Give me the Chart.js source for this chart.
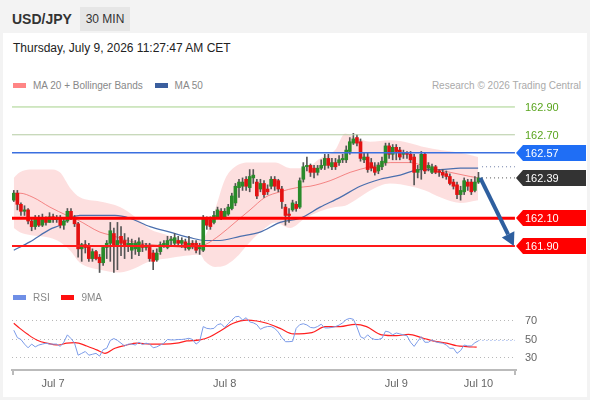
<!DOCTYPE html>
<html>
<head>
<meta charset="utf-8">
<script src="https://cdn.jsdelivr.net/npm/chart.js@4.4.1/dist/chart.umd.min.js"></script>
<style>
  body { margin:0; width:590px; height:400px; background:#f3f3f3; font-family:"Liberation Sans", Arial, sans-serif; overflow:hidden; position:relative; }
  .panel { position:absolute; left:3px; top:33px; width:584px; height:364px; background:#fff; }
  .abs { position:absolute; white-space:nowrap; }
  #pair { left:12px; top:11px; font-size:14px; font-weight:bold; color:#333; line-height:16px; }
  #tf { left:80px; top:7px; width:50px; height:24px; line-height:24px; text-align:center; background:#e6e6e6; font-size:12px; color:#333; }
  #date { left:13px; top:41px; font-size:12px; line-height:14px; color:#222; }
  .legend { font-size:10px; color:#888; line-height:12px; }
  .sw { display:inline-block; width:13px; height:5px; vertical-align:middle; margin-right:7px; position:relative; top:-1px; }
  .gap { display:inline-block; width:9px; }
  #mainBox { position:absolute; left:0; top:95px; width:590px; height:190px; }
  #rsiBox { position:absolute; left:0; top:284px; width:590px; height:113px; }
</style>
</head>
<body>
<div class="panel"></div>
<div class="abs" id="pair">USD/JPY</div>
<div class="abs" id="tf">30 MIN</div>
<div class="abs" id="date">Thursday, July 9, 2026 11:27:47 AM CET</div>
<div class="abs legend" style="left:13px; top:80px;">
  <span class="sw" style="background:#ff8585"></span>MA 20 + Bollinger Bands<span class="gap"></span>
  <span class="sw" style="background:#3b5f9e"></span>MA 50
</div>
<div class="abs legend" style="right:9px; top:80px; color:#aaa;">Research © 2026 Trading Central</div>
<div id="mainBox"><canvas id="mainChart"></canvas></div>
<div id="rsiBox"><canvas id="rsiChart"></canvas></div>
<div class="abs legend" style="left:13px; top:292px;">
  <span class="sw" style="background:#6f8fe6"></span>RSI<span class="gap"></span>
  <span class="sw" style="background:#ff1010"></span>9MA
</div>
<script>
// 30 min candles, Jul 6 evening to Jul 9 morning
const opens = [
  162.23,162.28,162.20,162.15,162.16,162.08,162.04,162.10,162.05,162.10,
  162.07,162.11,162.09,162.10,162.05,162.08,162.15,162.10,162.06,161.88,
  161.91,161.90,161.81,161.86,161.82,161.78,161.89,161.92,161.99,161.91,
  161.97,161.94,161.90,161.87,161.88,161.86,161.91,161.89,161.89,161.85,
  161.80,161.86,161.91,161.89,161.94,161.92,161.94,161.92,161.93,161.88,
  161.92,161.92,161.88,161.87,162.10,162.09,162.07,162.11,162.15,162.11,
  162.13,162.17,162.21,162.32,162.33,162.38,162.32,162.39,162.36,162.31,
  162.35,162.31,162.33,162.38,162.37,162.31,162.18,162.13,162.16,162.20,
  162.18,162.38,162.47,162.48,162.46,162.43,162.46,162.48,162.53,162.47,
  162.50,162.50,162.52,162.52,162.58,162.64,162.68,162.65,162.52,162.54,
  162.50,162.47,162.44,162.47,162.50,162.62,162.56,162.61,162.59,162.56,
  162.57,162.56,162.54,162.43,162.45,162.56,162.46,162.43,162.47,162.44,
  162.43,162.42,162.40,162.36,162.34,162.27,162.29,162.36,162.36,162.30,
  162.36];
const closes = [
  162.28,162.20,162.15,162.16,162.08,162.04,162.10,162.05,162.10,162.07,
  162.11,162.09,162.10,162.05,162.08,162.15,162.10,162.06,161.88,161.91,
  161.89,161.81,161.86,161.81,161.78,161.89,161.92,162.01,161.91,161.94,
  161.92,161.90,161.92,161.92,161.92,161.93,161.89,161.90,161.81,161.79,
  161.85,161.91,161.92,161.94,161.95,161.96,161.92,161.94,161.89,161.92,
  161.90,161.87,161.89,162.10,162.05,162.04,162.12,162.16,162.10,162.15,
  162.18,162.26,162.33,162.36,162.36,162.33,162.40,162.41,162.26,162.35,
  162.27,162.29,162.38,162.33,162.31,162.22,162.12,162.12,162.21,162.17,
  162.37,162.47,162.48,162.43,162.43,162.46,162.48,162.53,162.48,162.50,
  162.47,162.52,162.53,162.59,162.65,162.67,162.64,162.53,162.54,162.45,
  162.46,162.43,162.48,162.51,162.62,162.56,162.61,162.58,162.54,162.57,
  162.56,162.52,162.43,162.45,162.56,162.44,162.48,162.47,162.43,162.43,
  162.41,162.40,162.35,162.33,162.27,162.30,162.37,162.33,162.29,162.36,
  162.39];
const highs = [
  162.30,162.30,162.21,162.19,162.17,162.10,162.12,162.12,162.13,162.11,
  162.14,162.13,162.12,162.12,162.10,162.17,162.17,162.12,162.07,161.92,
  161.94,161.92,161.88,161.87,161.84,161.90,161.94,162.07,162.03,162.07,
  162.04,161.99,161.96,161.95,161.94,161.96,161.94,161.92,161.92,161.87,
  161.88,161.93,161.94,161.97,161.97,161.99,161.97,161.96,161.95,161.97,
  161.94,161.94,161.92,162.12,162.11,162.11,162.15,162.18,162.17,162.17,
  162.20,162.28,162.35,162.38,162.39,162.40,162.45,162.45,162.38,162.38,
  162.37,162.34,162.40,162.40,162.38,162.33,162.20,162.17,162.23,162.22,
  162.39,162.50,162.54,162.49,162.48,162.48,162.52,162.56,162.56,162.53,
  162.53,162.55,162.56,162.62,162.68,162.71,162.70,162.67,162.57,162.57,
  162.53,162.50,162.50,162.54,162.64,162.64,162.63,162.63,162.61,162.59,
  162.58,162.58,162.56,162.48,162.58,162.57,162.50,162.49,162.48,162.45,
  162.45,162.44,162.42,162.38,162.36,162.33,162.39,162.38,162.38,162.40,
  162.43];
const lows = [
  162.22,162.16,162.12,162.12,162.06,162.01,162.02,162.04,162.04,162.05,
  162.07,162.07,162.07,162.03,162.02,162.07,162.09,162.04,161.82,161.79,
  161.85,161.79,161.79,161.80,161.71,161.76,161.81,161.79,161.71,161.73,
  161.83,161.81,161.86,161.81,161.84,161.83,161.86,161.87,161.79,161.73,
  161.79,161.84,161.89,161.88,161.91,161.90,161.90,161.89,161.87,161.87,
  161.88,161.85,161.84,161.86,162.02,162.02,162.06,162.10,162.09,162.10,
  162.12,162.16,162.19,162.25,162.30,162.30,162.29,162.35,162.24,162.29,
  162.25,162.27,162.31,162.30,162.29,162.17,162.05,162.07,162.15,162.15,
  162.17,162.36,162.44,162.40,162.39,162.41,162.45,162.45,162.46,162.45,
  162.45,162.48,162.50,162.50,162.56,162.63,162.62,162.51,162.50,162.43,
  162.44,162.41,162.42,162.45,162.48,162.53,162.52,162.52,162.52,162.53,
  162.53,162.50,162.34,162.39,162.38,162.42,162.44,162.42,162.42,162.40,
  162.39,162.38,162.34,162.31,162.24,162.23,162.27,162.30,162.27,162.29,
  162.35];

// indicator lines: [bar position, value]
const ma20 = [[0,162.28],[1.7,162.28],[5.4,162.25],[10.1,162.18],[14.9,162.12],[17.7,162.09],
  [24.1,162.00],[26.9,161.98],[33.4,161.93],[42.9,161.90],[49.3,161.89],[53.5,161.91],
  [57.7,161.98],[61.9,162.07],[66.1,162.16],[70.3,162.25],[74.5,162.29],[79.2,162.32],
  [82.9,162.33],[88.5,162.37],[91.3,162.40],[94.1,162.43],[99.7,162.47],[105.3,162.50],
  [110.9,162.50],[116.5,162.46],[122.1,162.43],[127.7,162.40],[129.9,162.39]];
const ma50 = [[0,161.87],[4.5,161.93],[10.1,162.02],[12.9,162.05],[15.7,162.10],[18.5,162.12],
  [24.1,162.12],[28.3,162.12],[32.5,162.10],[38.1,162.04],[43.7,162.00],[49.3,161.96],
  [53.5,161.94],[57.7,161.94],[63.3,161.97],[68.9,162.00],[74.5,162.07],[80.1,162.10],
  [85.7,162.18],[91.3,162.25],[96.9,162.33],[102.5,162.38],[108.1,162.41],[113.7,162.45],
  [119.3,162.45],[124.9,162.46],[129.9,162.46]];
const bbX = [0,1.7,4.5,10.1,12.9,15.7,18.5,24.1,29.7,33.9,38.1,42.9,47.9,52.1,53.5,56.3,59.1,
  61.9,66.1,70.3,73.1,77.3,81.5,85.7,89.9,92.7,95.5,99.7,105.3,110.9,115.1,119.3,124.9,129.9];
const bbUpper = [162.39,162.43,162.45,162.45,162.43,162.32,162.25,162.22,162.18,162.11,
  162.02,161.98,161.94,161.94,161.97,162.16,162.38,162.47,162.50,162.50,162.50,162.46,
  162.46,162.53,162.59,162.71,162.68,162.65,162.66,162.64,162.61,162.59,162.57,162.54];
const bbLower = [162.03,162.00,161.98,161.96,161.93,161.87,161.78,161.73,161.71,161.74,
  161.79,161.81,161.83,161.84,161.79,161.75,161.76,161.81,161.93,162.03,162.07,162.03,
  162.10,162.15,162.18,162.19,162.23,162.30,162.35,162.33,162.30,162.25,162.21,162.23];
const ma50Next = 162.47;

// key levels and the projected move
const levelValues = [162.90, 162.70, 162.57, 162.39, 162.10, 161.90];
const arrowFrom = [130.5, 162.39];
const arrowTo = [139.9, 161.90];

// RSI panel
const rsi = [
  60,52,50,45,41,45,42,44,45,46,
  45,45,45,42.6,47,55,51,46,33,35,
  37,33,34,35,32,39,40.5,49,51,49,
  46,43,45,45,44,47,44.5,46,45,41,
  42,44,46,50,49.5,49.5,50,50,50.5,51.3,
  50,45,48,63.9,62,61.5,62,66,67,63,
  67,71,74.5,75,71,73.5,69,68,66,61,
  63,64,64,62,58,52,47.6,47.6,48,62,
  66,67,65.7,63,62.5,64,66.5,62.5,62.5,63,
  64,65.5,68,71.5,72.8,71.8,63.5,53,51,55,
  51.5,50,50,51.3,59,58,55,57,56,55,
  54,47,42.5,48,53,47,47,49.5,47.5,46.5,
  46,44,40.5,40.5,35,38,44,43,43,46.5,
  48.5];
const rsiNext = 49;
const rsiMa9 = [[0,67.5],[1.7,62],[4.1,55],[6.4,49.5],[9.2,46],[12.5,44],[14.8,46],[17.1,46.6],
  [20.4,43],[23.2,38.7],[25.5,35],[28.3,40.5],[31.6,44],[34.4,46],[38.1,45],[41.8,45],
  [45.6,46],[48.4,48.4],[52.1,49.5],[54.9,53],[58.2,60.3],[61.4,67.5],[65.2,71],[68,70],
  [70.8,67.5],[74.5,62],[78.2,56],[83.4,57.4],[87.1,63.9],[91.3,63.9],[95.5,66.4],
  [98.7,63.9],[102.9,55],[107.1,54.1],[110.4,55.6],[114.6,51.3],[118.3,47.6],[121.1,46],
  [123.9,43.2],[126.7,42.3],[129.5,41.7]];
const rsiLevels = [30, 50, 70];

// x axis
const xTickPos = [11, 59, 107, 130];
const xTickLabels = ['Jul 7', 'Jul 8', 'Jul 9', 'Jul 10'];
const X_MIN = -0.5, X_MAX = 140.5, X_END = 140.2;

const FONT = '"Liberation Sans", Arial, sans-serif';
Chart.defaults.font.family = FONT;

const idx = closes.map((_, i) => i);
const last = closes.length - 1;
const pts = arr => arr.map(([x, y]) => ({x, y}));
const flat = (x0, x1, y) => [{x: x0, y}, {x: x1, y}];

const GREEN = '#2a8a2a', RED = '#e31212';
const bodyColors = closes.map((c, i) => c >= opens[i] ? GREEN : RED);

const levelStyle = [
  {line: '#a6d28a', width: 1, text: '#5aa51e'},
  {line: '#b4cca3', width: 1, text: '#5aa51e'},
  {line: '#3a6fe0', width: 1.5, box: '#1f6ef5', text: '#fff'},
  {line: null, box: '#333333', text: '#fff'},
  {line: '#ff0000', width: 3, box: '#ff0000', text: '#fff'},
  {line: '#ff1a1a', width: 2, box: '#ff0000', text: '#fff'}
];

const lineBase = {type: 'line', pointRadius: 0, fill: false, tension: 0};

const levelSets = [];
levelValues.forEach((v, i) => {
  const st = levelStyle[i];
  if (!st.line) return;
  levelSets.push({...lineBase, data: flat(X_MIN, X_END, v), borderColor: st.line, borderWidth: st.width, order: 0});
});

// price tags at the right edge
const priceTags = {
  id: 'priceTags',
  afterDraw(chart) {
    const {ctx, chartArea, scales: {y}} = chart;
    const x0 = chartArea.right;
    ctx.save();
    ctx.font = '11px ' + FONT;
    ctx.textBaseline = 'middle';
    levelValues.forEach((v, i) => {
      const st = levelStyle[i];
      const py = Math.round(y.getPixelForValue(v));
      if (st.box) {
        ctx.fillStyle = st.box;
        ctx.beginPath();
        ctx.moveTo(x0, py);
        ctx.lineTo(x0 + 7, py - 8);
        ctx.lineTo(586, py - 8);
        ctx.lineTo(586, py + 8);
        ctx.lineTo(x0 + 7, py + 8);
        ctx.closePath();
        ctx.fill();
      }
      ctx.fillStyle = st.text;
      ctx.fillText(v.toFixed(2), x0 + 9, py + 1);
    });
    ctx.restore();
  }
};

const moveArrow = {
  id: 'moveArrow',
  afterDatasetsDraw(chart) {
    const {ctx, scales: {x, y}} = chart;
    const ax0 = x.getPixelForValue(arrowFrom[0]), ay0 = y.getPixelForValue(arrowFrom[1]);
    const ax1 = x.getPixelForValue(arrowTo[0]), ay1 = y.getPixelForValue(arrowTo[1]);
    const ang = Math.atan2(ay1 - ay0, ax1 - ax0);
    const headLen = 13, headW = 7;
    const bx = ax1 - headLen * Math.cos(ang), by = ay1 - headLen * Math.sin(ang);
    ctx.save();
    ctx.strokeStyle = ctx.fillStyle = '#2e5f9f';
    ctx.lineWidth = 4;
    ctx.beginPath();
    ctx.moveTo(ax0, ay0);
    ctx.lineTo(bx, by);
    ctx.stroke();
    ctx.beginPath();
    ctx.moveTo(ax1, ay1);
    ctx.lineTo(bx + headW * Math.sin(ang), by - headW * Math.cos(ang));
    ctx.lineTo(bx - headW * Math.sin(ang), by + headW * Math.cos(ang));
    ctx.closePath();
    ctx.fill();
    ctx.restore();
  }
};

new Chart(document.getElementById('mainChart'), {
  type: 'bar',
  data: {
    labels: idx,
    datasets: [
      ...levelSets,
      {...lineBase, data: flat(last + 1, X_END, closes[last]), borderColor: '#555', borderWidth: 1, borderDash: [1, 3], order: 0},
      {...lineBase, data: flat(last + 1, X_END, ma50Next), borderColor: '#6f7fa8', borderWidth: 1, borderDash: [1, 3], order: 0},
      {type: 'bar', data: closes.map((c, i) => [opens[i], c]), backgroundColor: bodyColors, barThickness: 3, grouped: false, order: 1},
      {type: 'bar', data: lows.map((l, i) => [l, highs[i]]), backgroundColor: '#555', barThickness: 1, grouped: false, order: 2},
      {...lineBase, data: pts(ma20), borderColor: 'rgba(240,100,100,0.75)', borderWidth: 1, tension: 0.4, cubicInterpolationMode: 'monotone', order: 3},
      {...lineBase, data: pts(ma50), borderColor: '#4b6fae', borderWidth: 1.2, tension: 0.4, cubicInterpolationMode: 'monotone', order: 3},
      {...lineBase, data: bbX.map((x, i) => ({x, y: bbUpper[i]})), borderWidth: 0, borderColor: 'rgba(0,0,0,0)',
        fill: '+1', backgroundColor: 'rgba(250,175,175,0.4)', tension: 0.4, cubicInterpolationMode: 'monotone', order: 4},
      {...lineBase, data: bbX.map((x, i) => ({x, y: bbLower[i]})), borderWidth: 0, borderColor: 'rgba(0,0,0,0)',
        tension: 0.4, cubicInterpolationMode: 'monotone', order: 4}
    ]
  },
  options: {
    responsive: true,
    maintainAspectRatio: false,
    animation: false,
    events: [],
    layout: {padding: {left: 12, right: 74, top: 0, bottom: 0}},
    plugins: {legend: {display: false}, tooltip: {enabled: false}},
    scales: {
      x: {type: 'linear', min: X_MIN, max: X_MAX, offset: false, display: false},
      y: {type: 'linear', min: 161.62, max: 162.986, display: false}
    }
  },
  plugins: [moveArrow, priceTags]
});

const axisEnds = {
  id: 'axisEnds',
  afterDraw(chart) {
    const {ctx, chartArea} = chart;
    ctx.save();
    ctx.strokeStyle = '#bbb';
    ctx.lineWidth = 2;
    ctx.beginPath();
    [chartArea.left + 1, chartArea.right - 1].forEach(px => {
      ctx.moveTo(px, chartArea.bottom);
      ctx.lineTo(px, chartArea.bottom + 5);
    });
    ctx.stroke();
    ctx.restore();
  }
};

new Chart(document.getElementById('rsiChart'), {
  type: 'line',
  data: {
    labels: idx,
    datasets: [
      {...lineBase, data: rsi, borderColor: '#7b9be8', borderWidth: 1},
      {...lineBase, data: flat(last, X_END, rsiNext), borderColor: '#7b9be8', borderWidth: 1, borderDash: [1, 3]},
      {...lineBase, data: pts(rsiMa9), borderColor: '#ff2020', borderWidth: 1.2, tension: 0.4, cubicInterpolationMode: 'monotone'}
    ]
  },
  options: {
    responsive: true,
    maintainAspectRatio: false,
    animation: false,
    events: [],
    layout: {padding: {left: 12, right: 0, top: 0, bottom: 0}},
    plugins: {legend: {display: false}, tooltip: {enabled: false}},
    scales: {
      x: {
        type: 'linear', min: X_MIN, max: X_MAX, offset: false,
        afterBuildTicks: s => { s.ticks = xTickPos.map(v => ({value: v})); },
        afterFit: s => { s.height = 27; },
        grid: {display: false, drawTicks: false},
        border: {display: true, color: '#bbb', width: 2},
        ticks: {autoSkip: false, maxRotation: 0, padding: 7, color: '#666', font: {size: 11},
          callback: v => xTickLabels[xTickPos.indexOf(v)]}
      },
      y: {
        type: 'linear', position: 'right', min: 17, max: 93.1,
        afterBuildTicks: s => { s.ticks = rsiLevels.map(v => ({value: v})); },
        afterFit: s => { s.width = 74; },
        grid: {color: '#b8b8b8', drawTicks: false},
        border: {display: false, dash: [1, 3]},
        ticks: {padding: 9, color: '#666', font: {size: 11}}
      }
    }
  },
  plugins: [axisEnds]
});
</script>
</body>
</html>
